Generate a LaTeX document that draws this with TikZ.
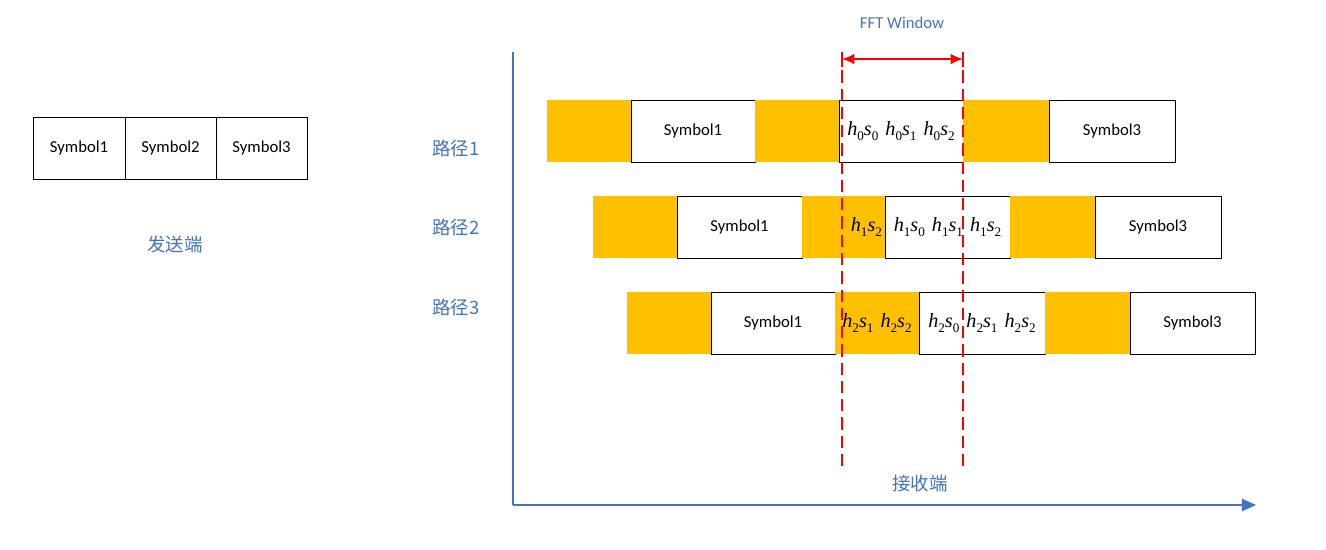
\documentclass[tikz,border=0pt]{standalone}
\usepackage{fontspec}
\setmainfont{Carlito}
\newfontfamily\cjk{Noto Sans CJK SC}
\newfontfamily\mser{Liberation Serif}
\usetikzlibrary{arrows.meta}
\definecolor{obox}{HTML}{FFC000}
\definecolor{bluetxt}{HTML}{4472C4}
\newcommand{\blk}[6]{%
  \pgfmathsetmacro\bw{(#4-#3)*0.02}%
  \node[#2, minimum width=\bw cm, minimum height=1.24cm, anchor=north west] (#1) at (#3,#5) {#6};}
\newcommand{\sbx}[1]{\raisebox{-0.22em}{\fontsize{7.5}{8}\selectfont #1}}
\newcommand{\hs}[2]{{\mser\fontsize{11.5}{13}\selectfont\itshape h\sbx{\upshape#1}s\sbx{\upshape#2}}}
\begin{document}
\begin{tikzpicture}[x=0.02cm, y=-0.02cm,
  every node/.style={inner sep=0pt, outer sep=0pt},
  wbox/.style={draw=black, fill=white, line width=0.5pt, font=\fontsize{9.5}{11}\selectfont},
  ybox/.style={fill=obox},
  mbox/.style={draw=black, fill=white, line width=0.5pt},
  lbl/.style={text=bluetxt, font=\cjk\fontsize{10.5}{12}\selectfont},
  fft/.style={red, line width=0.9pt, dash pattern=on 7pt off 3.4pt},
  axis/.style={bluetxt, line width=0.9pt}]
\useasboundingbox (0,0) rectangle (1326,550);
% sender
\blk{s1}{wbox}{33}{125}{117}{Symbol1}
\blk{s2}{wbox}{125}{216}{117}{Symbol2}
\blk{s3}{wbox}{216}{307}{117}{Symbol3}
\node[lbl] (tx) at (175,244) {发送端};
% axes
\coordinate (o) at (513,505);
\coordinate (yt) at (513,52);
\coordinate (xr) at (1256,505);
\draw[axis] (yt) -- (o);
\draw[axis, -{Triangle[length=8pt,width=7pt]}] (o) -- (xr);
% path 1
\blk{a1}{ybox}{547}{631}{100}{}
\blk{a2}{wbox}{631}{755}{100}{Symbol1}
\blk{a3}{ybox}{755}{839}{100}{}
\blk{a4}{mbox}{839}{963}{100}{\hs{0}{0}\hspace{4pt}\hs{0}{1}\hspace{4pt}\hs{0}{2}}
\blk{a5}{ybox}{963}{1049}{100}{}
\blk{a6}{wbox}{1049}{1175}{100}{Symbol3}
% path 2
\blk{b1}{ybox}{593}{677}{196}{}
\blk{b2}{wbox}{677}{802}{196}{Symbol1}
\blk{b3}{ybox}{802}{885}{196}{}
\blk{b4}{mbox}{885}{1010}{196}{\hs{1}{0}\hspace{4pt}\hs{1}{1}\hspace{4pt}\hs{1}{2}}
\blk{b5}{ybox}{1010}{1095}{196}{}
\blk{b6}{wbox}{1095}{1221}{196}{Symbol3}
\node[anchor=east] (b3t) at ([xshift=-0.06cm]b3.east) {\hs{1}{2}};
% path 3
\blk{c1}{ybox}{627}{711}{292}{}
\blk{c2}{wbox}{711}{835}{292}{Symbol1}
\blk{c3}{ybox}{835}{919}{292}{\hs{2}{1}\hspace{4pt}\hs{2}{2}}
\blk{c4}{mbox}{919}{1045}{292}{\hs{2}{0}\hspace{4pt}\hs{2}{1}\hspace{4pt}\hs{2}{2}}
\blk{c5}{ybox}{1045}{1130}{292}{}
\blk{c6}{wbox}{1130}{1255}{292}{Symbol3}
% labels
\node[lbl] (p1) at (456,148) {路径1};
\node[lbl] (p2) at (456,227) {路径2};
\node[lbl] (p3) at (456,307) {路径3};
\node[lbl] (rx) at (920,484) {接收端};
% FFT window
\coordinate (fa) at (842,52);
\coordinate (fb) at (963,52);
\coordinate (fab) at (842,468);
\coordinate (fbb) at (963,468);
\coordinate (fam) at (842,59);
\coordinate (fbm) at (963,59);
\draw[fft] (fa) -- (fab);
\draw[fft] (fb) -- (fbb);
\draw[red, line width=0.9pt] (842,52) -- (842,67) (963,52) -- (963,67);
\draw[red, line width=0.9pt, {Latex[length=7pt,width=6pt]}-{Latex[length=7pt,width=6pt]}] (fam) -- (fbm);
\node[text=bluetxt, font=\fontsize{9.5}{11}\selectfont] (fw) at (902,23) {FFT Window};
\end{tikzpicture}
\end{document}
